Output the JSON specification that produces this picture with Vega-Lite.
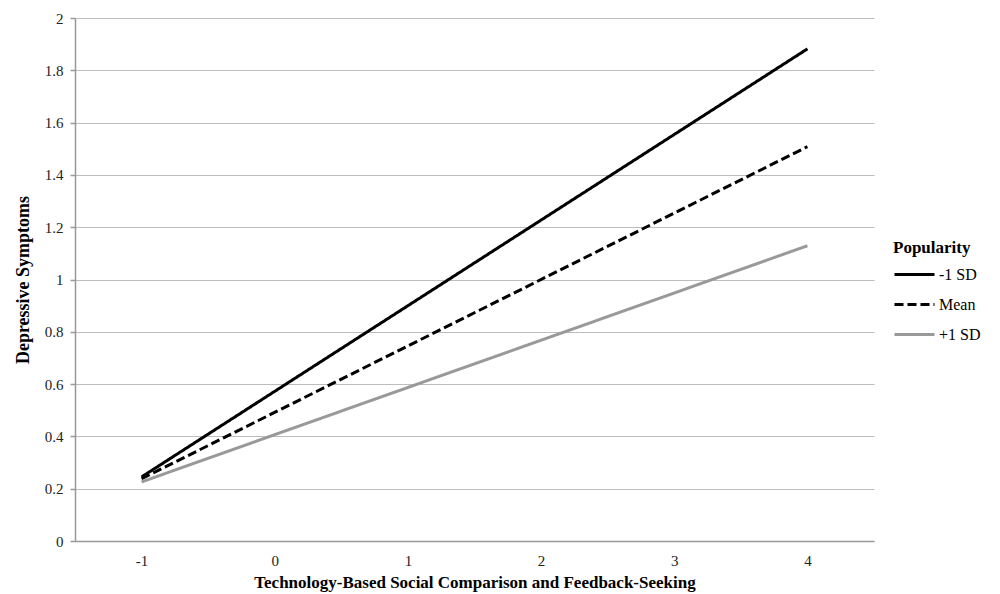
{
  "$schema": "https://vega.github.io/schema/vega-lite/v6.json",
  "autosize": "none",
  "width": 799,
  "height": 523,
  "padding": {"left": 75, "top": 18, "right": 126, "bottom": 53},
  "background": "white",
  "config": {
    "view": {"stroke": null},
    "font": "'Liberation Serif', 'Times New Roman', serif"
  },
  "data": {
    "values": [
      {"x": "-1", "y": 0.245, "group": "-1 SD"},
      {"x": "4", "y": 1.882, "group": "-1 SD"},
      {"x": "-1", "y": 0.238, "group": "Mean"},
      {"x": "4", "y": 1.508, "group": "Mean"},
      {"x": "-1", "y": 0.226, "group": "+1 SD"},
      {"x": "4", "y": 1.129, "group": "+1 SD"}
    ]
  },
  "mark": {"type": "line", "strokeWidth": 3, "strokeCap": "butt"},
  "encoding": {
    "x": {
      "field": "x",
      "type": "ordinal",
      "sort": null,
      "scale": {"domain": ["-1", "0", "1", "2", "3", "4"], "type": "point", "padding": 0.5},
      "axis": {
        "title": "Technology-Based Social Comparison and Feedback-Seeking",
        "titleFont": "'Liberation Serif', 'Times New Roman', serif",
        "titleFontSize": 17,
        "titleFontWeight": "bold",
        "titleColor": "#000",
        "titlePadding": 6,
        "labelAngle": 0,
        "labelFont": "'Liberation Serif', 'Times New Roman', serif",
        "labelFontSize": 15,
        "labelColor": "#222",
        "labelPadding": 12,
        "ticks": false,
        "domainColor": "#999",
        "domainWidth": 1.5,
        "grid": false
      }
    },
    "y": {
      "field": "y",
      "type": "quantitative",
      "scale": {"domain": [0, 2], "nice": false},
      "axis": {
        "title": "Depressive Symptoms",
        "titleFont": "'Liberation Serif', 'Times New Roman', serif",
        "titleFontSize": 18,
        "titleFontWeight": "bold",
        "titleColor": "#000",
        "titlePadding": 12,
        "values": [0, 0.2, 0.4, 0.6, 0.8, 1, 1.2, 1.4, 1.6, 1.8, 2],
        "format": "~g",
        "labelFont": "'Liberation Serif', 'Times New Roman', serif",
        "labelFontSize": 15,
        "labelColor": "#222",
        "labelPadding": 7,
        "tickSize": 5,
        "tickColor": "#999",
        "tickWidth": 1.5,
        "domainColor": "#999",
        "domainWidth": 1.5,
        "grid": true,
        "gridColor": "#bdbdbd",
        "gridWidth": 1.2
      }
    },
    "color": {
      "field": "group",
      "type": "nominal",
      "sort": ["-1 SD", "Mean", "+1 SD"],
      "scale": {"domain": ["-1 SD", "Mean", "+1 SD"], "range": ["#000000", "#000000", "#999999"]},
      "legend": {
        "title": "Popularity",
        "orient": "none",
        "legendX": 818,
        "legendY": 222,
        "titleFont": "'Liberation Serif', 'Times New Roman', serif",
        "titleFontSize": 17,
        "titleFontWeight": "bold",
        "titleColor": "#000",
        "titlePadding": -4,
        "labelFont": "'Liberation Serif', 'Times New Roman', serif",
        "labelFontSize": 16,
        "labelColor": "#000",
        "labelOffset": 3,
        "symbolType": "stroke",
        "symbolSize": 1600,
        "symbolStrokeWidth": 3,
        "rowPadding": -10.5
      }
    },
    "strokeDash": {
      "field": "group",
      "type": "nominal",
      "sort": ["-1 SD", "Mean", "+1 SD"],
      "scale": {"domain": ["-1 SD", "Mean", "+1 SD"], "range": [[1, 0], [9, 4], [1, 0]]},
      "legend": null
    }
  }
}
